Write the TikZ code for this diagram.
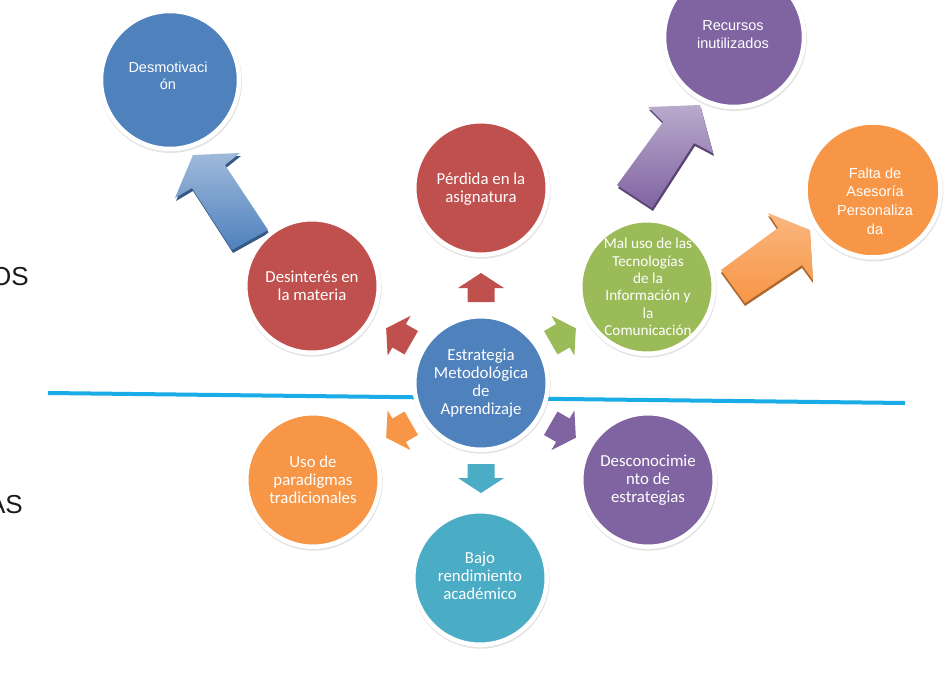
\documentclass[tikz,border=0pt]{standalone}
\usepackage{fontspec}
\setmainfont{Carlito}
\newfontfamily\tahfont{Liberation Sans}
\usetikzlibrary{shadows}
\definecolor{cblue}{HTML}{4F81BD}
\definecolor{cred}{HTML}{C0504D}
\definecolor{cgreen}{HTML}{9BBB59}
\definecolor{cpurple}{HTML}{8064A2}
\definecolor{corange}{HTML}{F79646}
\definecolor{cteal}{HTML}{4BACC6}
\definecolor{cline}{HTML}{19ACE6}
\definecolor{ctext}{HTML}{1A1A1A}
\begin{document}
\begin{tikzpicture}[x=1pt,y=-1pt,
  disc/.style={circle, draw=white, line width=4.5pt, minimum size=#1, inner sep=0pt,
    drop shadow={shadow xshift=0.5pt, shadow yshift=-1.5pt, shadow scale=1.035, opacity=0.22}},
  disc/.default=133.5,
  lbl/.style={text=white, align=center, inner sep=0pt, font=\fontsize{16.8}{18}\selectfont},
  lbltah/.style={text=white, align=center, inner sep=0pt, font=\tahfont\fontsize{14.5}{#1}\selectfont},
  side/.style={anchor=base east, inner sep=0pt, text=ctext, font=\tahfont\fontsize{26}{26}\selectfont},
  smallarrow/.style={fill=#1},
  bigshadow/.style={fill=#1!70!black},
]
\useasboundingbox (0,0) rectangle (951,680);
\fill[white] (0,0) rectangle (951,680);

% side texts
\node[side] (os) at (29,285) {OS};
\node[side] (as) at (23,513) {AS};

% divider line
\coordinate (lineL) at (48,393);
\coordinate (lineR) at (905,403);
\draw[cline, line width=4pt] (lineL) -- (lineR);

% big block arrows (3D look)
\fill[bigshadow=cblue] (233,253) -- (193,191) -- (176,201) -- (194,158) -- (241,156) -- (226,168) -- (269,233) -- cycle;
\shade[top color=cblue!55!white, bottom color=cblue] (232,250) -- (192,188) -- (175,198) -- (193,155) -- (240,153) -- (225,165) -- (268,230) -- cycle;

\fill[bigshadow=cpurple] (618,188) -- (664,125) -- (649,110) -- (701,108) -- (714,156) -- (695,146) -- (653,211) -- cycle;
\shade[top color=cpurple!55!white, bottom color=cpurple] (617,185) -- (663,122) -- (648,107) -- (700,105) -- (713,153) -- (694,143) -- (652,208) -- cycle;

\fill[bigshadow=corange] (721,273) -- (778,231) -- (768,216) -- (810,233) -- (813,283) -- (802,268) -- (745,306) -- cycle;
\shade[top color=corange!70!white, bottom color=corange] (721,270) -- (778,228) -- (768,213) -- (810,230) -- (813,280) -- (802,265) -- (745,303) -- cycle;

% circles
\node[disc, fill=cblue] (c0) at (481,383) {};
\node[disc, fill=cred] (c1) at (481,188) {};
\node[disc, fill=cred] (c2) at (312,286) {};
\node[disc, fill=cgreen] (c3) at (647,287) {};
\node[disc, fill=corange] (c4) at (313,480) {};
\node[disc, fill=cpurple] (c5) at (648,480) {};
\node[disc, fill=cteal] (c6) at (480,578) {};
\node[disc=138, fill=cblue] (c7) at (170,80) {};
\node[disc=140, fill=cpurple] (c8) at (734,37) {};
\node[disc=135, fill=corange] (c9) at (873,190) {};

% labels
\node[lbl] (t0) at (481,383) {Estrategia\\Metodológica\\de\\Aprendizaje};
\node[lbl] (t1) at (481,189) {Pérdida en la\\asignatura};
\node[lbl] (t2) at (312,286) {Desinterés en\\la materia};
\node[lbl, font=\fontsize{15.2}{17.3}\selectfont] (t3) at (648,287) {Mal uso de las\\Tecnologías\\de la\\Información y\\la\\Comunicación};
\node[lbl] (t4) at (313,480) {Uso de\\paradigmas\\tradicionales};
\node[lbl] (t5) at (648,480) {Desconocimie\\nto de\\estrategias};
\node[lbl] (t6) at (480,576) {Bajo\\rendimiento\\académico};
\node[lbltah=16.5] (t7) at (168,76) {Desmotivaci\\ón};
\node[lbltah=18] (t8) at (733,35) {Recursos\\inutilizados};
\node[lbltah=18.7] (t9) at (875,201) {Falta de\\Asesoría\\Personaliza\\da};

% small arrows around the centre
\foreach \px/\py/\ang/\col in {481/287.5/90/cred, 398.7/335.5/150/cred, 563.3/335.5/30/cgreen,
  398.7/430.5/210/corange, 563.3/430.5/330/cpurple, 481/478.5/270/cteal}{
  \begin{scope}[shift={(\px,\py)}, rotate=\ang]
    \fill[smallarrow=\col] (-14.5,-13.5) -- (-0.5,-13.5) -- (-0.5,-23) -- (14.5,0) -- (-0.5,23) -- (-0.5,13.5) -- (-14.5,13.5) -- cycle;
  \end{scope}
}
\end{tikzpicture}
\end{document}
